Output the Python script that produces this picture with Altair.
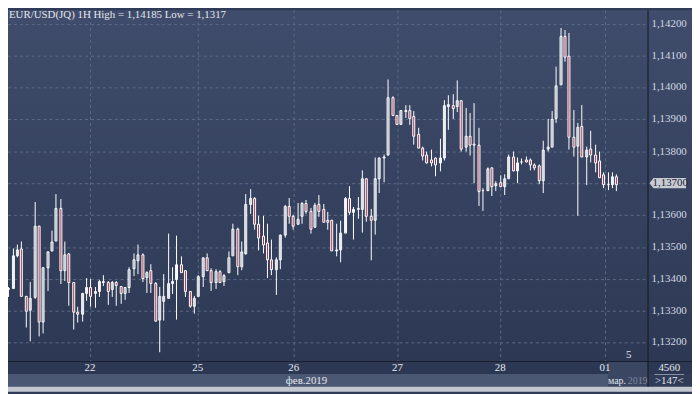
import altair as alt
import pandas as pd

# ---- data (hourly EUR/USD candles) ----
opens = [1.13369, 1.13372, 1.13475, 1.13496, 1.13348, 1.13305, 1.13343, 1.13567, 1.13266, 1.13436,
         1.13491, 1.13519, 1.13622, 1.13426, 1.13479, 1.13390, 1.13297, 1.13292, 1.13356, 1.13374,
         1.13356, 1.13362, 1.13395, 1.13390, 1.13369, 1.13389, 1.13379, 1.13356, 1.13374, 1.13434,
         1.13460, 1.13477, 1.13405, 1.13426, 1.13387, 1.13274, 1.13333, 1.13341, 1.13387, 1.13400,
         1.13446, 1.13426, 1.13362, 1.13315, 1.13348, 1.13410, 1.13467, 1.13428, 1.13389, 1.13425,
         1.13394, 1.13420, 1.13474, 1.13557, 1.13440, 1.13481, 1.13636, 1.13655, 1.13574, 1.13535,
         1.13515, 1.13461, 1.13430, 1.13461, 1.13540, 1.13629, 1.13599, 1.13572, 1.13597, 1.13639,
         1.13612, 1.13564, 1.13635, 1.13620, 1.13586, 1.13586, 1.13491, 1.13493, 1.13546, 1.13653,
         1.13609, 1.13620, 1.13620, 1.13715, 1.13599, 1.13586, 1.13717, 1.13782, 1.13790, 1.13970,
         1.13913, 1.13887, 1.13925, 1.13928, 1.13911, 1.13856, 1.13812, 1.13790, 1.13774, 1.13779,
         1.13764, 1.13781, 1.13941, 1.13944, 1.13941, 1.13959, 1.13813, 1.13849, 1.13825, 1.13820,
         1.13678, 1.13678, 1.13748, 1.13695, 1.13704, 1.13692, 1.13717, 1.13784, 1.13741, 1.13767,
         1.13774, 1.13775, 1.13760, 1.13757, 1.13710, 1.13808, 1.13816, 1.13904, 1.14009, 1.14161,
         1.14099, 1.13847, 1.13819, 1.13880, 1.13785, 1.13809, 1.13791, 1.13770, 1.13727, 1.13696,
         1.13696, 1.13721]
highs = [1.13374, 1.13496, 1.13508, 1.13517, 1.13348, 1.13389, 1.13642, 1.13567, 1.13436, 1.13486,
         1.13552, 1.13666, 1.13651, 1.13517, 1.13479, 1.13390, 1.13312, 1.13356, 1.13403, 1.13400,
         1.13374, 1.13397, 1.13412, 1.13395, 1.13393, 1.13392, 1.13379, 1.13376, 1.13436, 1.13479,
         1.13508, 1.13479, 1.13423, 1.13446, 1.13389, 1.13374, 1.13415, 1.13541, 1.13436, 1.13536,
         1.13470, 1.13428, 1.13364, 1.13348, 1.13412, 1.13469, 1.13479, 1.13434, 1.13432, 1.13427,
         1.13414, 1.13487, 1.13572, 1.13562, 1.13518, 1.13667, 1.13680, 1.13657, 1.13598, 1.13597,
         1.13574, 1.13523, 1.13469, 1.13540, 1.13631, 1.13655, 1.13602, 1.13639, 1.13641, 1.13646,
         1.13623, 1.13639, 1.13664, 1.13635, 1.13609, 1.13586, 1.13573, 1.13581, 1.13656, 1.13692,
         1.13625, 1.13656, 1.13741, 1.13717, 1.13620, 1.13779, 1.13781, 1.13790, 1.14026, 1.13972,
         1.13915, 1.13930, 1.13944, 1.13944, 1.13925, 1.13872, 1.13815, 1.13800, 1.13805, 1.13781,
         1.13839, 1.13959, 1.13975, 1.13980, 1.14021, 1.13961, 1.13936, 1.13921, 1.13951, 1.13872,
         1.13685, 1.13750, 1.13750, 1.13705, 1.13726, 1.13728, 1.13790, 1.13798, 1.13779, 1.13777,
         1.13784, 1.13777, 1.13762, 1.13758, 1.13832, 1.13902, 1.13926, 1.14066, 1.14185, 1.14180,
         1.14171, 1.13930, 1.13888, 1.13945, 1.13816, 1.13863, 1.13821, 1.13798, 1.13734, 1.13734,
         1.13734, 1.13727]
lows = [1.13345, 1.13368, 1.13469, 1.13348, 1.13248, 1.13204, 1.13338, 1.13220, 1.13230, 1.13364,
        1.13486, 1.13519, 1.13385, 1.13395, 1.13315, 1.13242, 1.13263, 1.13266, 1.13333, 1.13312,
        1.13309, 1.13345, 1.13379, 1.13320, 1.13345, 1.13317, 1.13323, 1.13335, 1.13356, 1.13410,
        1.13415, 1.13390, 1.13356, 1.13356, 1.13266, 1.13170, 1.13271, 1.13341, 1.13354, 1.13274,
        1.13421, 1.13345, 1.13309, 1.13292, 1.13348, 1.13374, 1.13426, 1.13362, 1.13370, 1.13387,
        1.13378, 1.13418, 1.13473, 1.13411, 1.13428, 1.13476, 1.13605, 1.13554, 1.13490, 1.13481,
        1.13404, 1.13411, 1.13349, 1.13430, 1.13531, 1.13572, 1.13554, 1.13570, 1.13572, 1.13605,
        1.13541, 1.13562, 1.13596, 1.13579, 1.13553, 1.13489, 1.13471, 1.13452, 1.13545, 1.13602,
        1.13522, 1.13589, 1.13545, 1.13579, 1.13458, 1.13539, 1.13668, 1.13702, 1.13787, 1.13911,
        1.13884, 1.13882, 1.13903, 1.13884, 1.13820, 1.13812, 1.13772, 1.13762, 1.13754, 1.13723,
        1.13738, 1.13771, 1.13867, 1.13901, 1.13923, 1.13798, 1.13798, 1.13787, 1.13699, 1.13628,
        1.13613, 1.13674, 1.13661, 1.13674, 1.13689, 1.13663, 1.13715, 1.13738, 1.13699, 1.13759,
        1.13764, 1.13741, 1.13739, 1.13696, 1.13669, 1.13799, 1.13813, 1.13888, 1.14009, 1.14081,
        1.13806, 1.13785, 1.13597, 1.13785, 1.13693, 1.13765, 1.13734, 1.13719, 1.13683, 1.13677,
        1.13683, 1.13674]
closes = [1.13372, 1.13475, 1.13493, 1.13348, 1.13302, 1.13341, 1.13567, 1.13266, 1.13436, 1.13486,
          1.13517, 1.13622, 1.13426, 1.13477, 1.13390, 1.13297, 1.13290, 1.13356, 1.13374, 1.13348,
          1.13362, 1.13395, 1.13390, 1.13364, 1.13390, 1.13381, 1.13356, 1.13374, 1.13431, 1.13462,
          1.13477, 1.13403, 1.13421, 1.13387, 1.13269, 1.13348, 1.13348, 1.13387, 1.13395, 1.13446,
          1.13421, 1.13362, 1.13315, 1.13341, 1.13410, 1.13467, 1.13428, 1.13390, 1.13425, 1.13389,
          1.13412, 1.13469, 1.13557, 1.13440, 1.13485, 1.13636, 1.13655, 1.13572, 1.13531, 1.13509,
          1.13461, 1.13430, 1.13461, 1.13540, 1.13629, 1.13599, 1.13566, 1.13590, 1.13639, 1.13612,
          1.13559, 1.13631, 1.13613, 1.13579, 1.13579, 1.13489, 1.13494, 1.13546, 1.13653, 1.13609,
          1.13620, 1.13622, 1.13715, 1.13597, 1.13586, 1.13715, 1.13779, 1.13784, 1.13970, 1.13913,
          1.13885, 1.13928, 1.13928, 1.13903, 1.13849, 1.13812, 1.13787, 1.13764, 1.13764, 1.13759,
          1.13782, 1.13944, 1.13949, 1.13934, 1.13959, 1.13807, 1.13849, 1.13820, 1.13821, 1.13676,
          1.13679, 1.13745, 1.13692, 1.13701, 1.13691, 1.13717, 1.13784, 1.13740, 1.13764, 1.13769,
          1.13767, 1.13760, 1.13749, 1.13710, 1.13806, 1.13816, 1.13902, 1.14007, 1.14161, 1.14096,
          1.13847, 1.13816, 1.13878, 1.13785, 1.13806, 1.13791, 1.13765, 1.13719, 1.13696, 1.13697,
          1.13721, 1.13698]

day_pos = [19.89, 44.95, 67.07, 91.23, 115.15, 139.31]
day_labels = ["22", "25", "26", "27", "28", "01"]
y_ticks = [1.132, 1.133, 1.134, 1.135, 1.136, 1.137, 1.138, 1.139, 1.140, 1.141, 1.142]
y_labels = [f"{v:.5f}".replace(".", ",") for v in y_ticks]
title_text = "EUR/USD(JQ) 1H High = 1,14185 Low = 1,1317"
last_price = [1.13700]

FONT = "Liberation Sans Narrow"
W, H = 647, 355

df = pd.DataFrame({"i": list(range(1, len(opens) + 1)), "o": opens, "h": highs, "l": lows, "c": closes})
df["lo"] = df[["o", "c"]].min(axis=1)
df["hi"] = df[["o", "c"]].max(axis=1)

xs = alt.Scale(domain=[2.061, 148.11], nice=False, zero=False, round=True)
ys = alt.Scale(domain=[1.131427, 1.142418], nice=False, zero=False, round=True)

one = pd.DataFrame({"k": [0]})

bg = alt.Chart(one).mark_rect(
    color=alt.Gradient(gradient="linear",
                       stops=[alt.GradientStop(color="#3f4c6b", offset=0),
                              alt.GradientStop(color="#2c3853", offset=1)],
                       x1=0, x2=0, y1=0, y2=1)
).encode(x=alt.value(0), x2=alt.value(692), y=alt.value(0), y2=alt.value(368))

hgrid = alt.Chart(pd.DataFrame({"v": y_ticks})).mark_rule(
    color="#5d6a86", strokeDash=[3, 3], strokeWidth=1, yOffset=0.5
).encode(y=alt.Y("v:Q", scale=ys, axis=None), x=alt.value(0), x2=alt.value(W))

vgrid = alt.Chart(pd.DataFrame({"p": day_pos})).mark_rule(
    color="#5d6a86", strokeDash=[3, 3], strokeWidth=1, xOffset=0.5
).encode(x=alt.X("p:Q", scale=xs, axis=None), y=alt.value(0), y2=alt.value(H))

base = alt.Chart(df)
wicks = base.mark_rule(color="white", strokeWidth=1, xOffset=0.5).encode(
    x=alt.X("i:Q", scale=xs, axis=None),
    y=alt.Y("l:Q", scale=ys, axis=None),
    y2="h:Q",
)
bodies = base.mark_bar(width=2, stroke="white", strokeWidth=1, xOffset=0.5,
                       yOffset=0.5, y2Offset=0.5).encode(
    x=alt.X("i:Q", scale=xs, axis=None),
    y=alt.Y("lo:Q", scale=ys, axis=None),
    y2="hi:Q",
    fill=alt.condition("datum.c < datum.o", alt.value("#a8344c"), alt.value("transparent")),
)

xlab = alt.Chart(pd.DataFrame({"p": day_pos, "t": day_labels})).mark_text(
    font=FONT, fontSize=11, color="#e6e9ef", baseline="middle", align="center"
).encode(x=alt.X("p:Q", scale=xs, axis=None), y=alt.value(362), text="t:N")

ylab = alt.Chart(pd.DataFrame({"v": y_ticks, "t": y_labels})).mark_text(
    font=FONT, fontSize=11, color="#d3d8e0", baseline="middle", align="left"
).encode(y=alt.Y("v:Q", scale=ys, axis=None), x=alt.value(651), text="t:N")

tag_path = "M-1,0 L-0.78,-0.28 L1,-0.28 L1,0.28 L-0.78,0.28 Z"
tag_df = pd.DataFrame({"p": last_price})
tag = alt.Chart(tag_df).mark_point(
    shape=tag_path, filled=True, fill="#c7ccd4", opacity=1, size=1369, strokeWidth=0
).encode(y=alt.Y("p:Q", scale=ys, axis=None), x=alt.value(667.5))
tag_txt = alt.Chart(tag_df).transform_calculate(
    t="replace(format(datum.p, '.5f'), '.', ',')"
).mark_text(font=FONT, fontSize=11, color="#1e2432", align="center", baseline="middle").encode(
    y=alt.Y("p:Q", scale=ys, axis=None), x=alt.value(670), text="t:N")

def rect(x0, x1, y0, y1, color):
    return alt.Chart(one).mark_rect(color=color).encode(
        x=alt.value(x0), x2=alt.value(x1), y=alt.value(y0), y2=alt.value(y1))

def text(t, x, y, color="#e3e6ec", align="center", size=11):
    return alt.Chart(pd.DataFrame({"t": [t]})).mark_text(
        font=FONT, fontSize=size, color=color, align=align, baseline="middle"
    ).encode(text="t:N", x=alt.value(x), y=alt.value(y))

band = rect(0, 607, 368, 381, "#4b5874")
mar_box = rect(607, 647, 356, 381, "#3a4662")
border = rect(0, 692, 381, 386, "#c3c8d0")
vsep = rect(647, 648, 0, 381, "#151920")
hsep = rect(0, 692, 355, 356, "#151920")
underline = rect(654, 684, 368, 369, "#8a93a5")

chart = alt.layer(
    bg, hgrid, vgrid, wicks, bodies,
    band, mar_box, border, vsep, hsep, underline,
    xlab, ylab, tag, tag_txt,
    text(title_text, 1, 5, color="#e4e7ed", align="left"),
    text("фев.2019", 302, 375),
    text("мар.", 607, 375, align="left", size=10),
    text("2019", 627, 375, color="#7f899c", align="left", size=10),
    text("5", 628, 349),
    text("4560", 669, 362),
    text(">147<", 669, 375),
).properties(
    width=W, height=H,
    autosize="none",
    padding={"left": 0, "top": 0, "right": 45, "bottom": 31},
    background="#2f3b57",
).configure_view(stroke=None)

chart.save("out.html", embed_options={"renderer": "svg", "actions": False})
